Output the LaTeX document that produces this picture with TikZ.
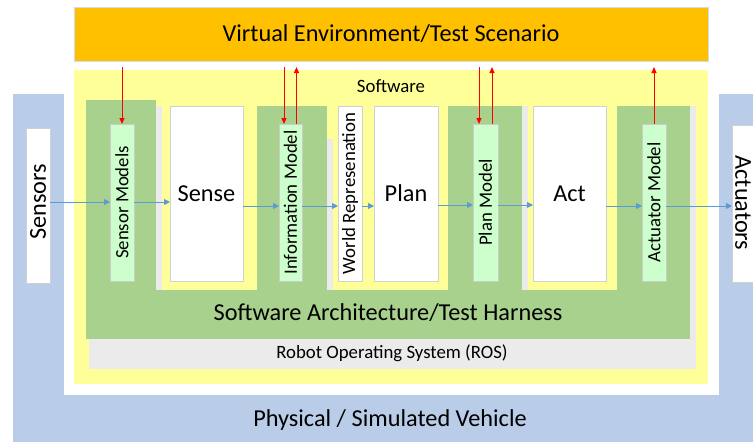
\documentclass[tikz,border=0pt]{standalone}
\usepackage{fontspec}
\setmainfont{Carlito}
\usetikzlibrary{arrows.meta}
\definecolor{vblue}{HTML}{BACDE8}
\definecolor{vorange}{HTML}{FFC000}
\definecolor{vyellow}{HTML}{FFFF99}
\definecolor{vgreen}{HTML}{A9D18E}
\definecolor{lgreen}{HTML}{CCFFCC}
\definecolor{vgray}{HTML}{EBEBEB}
\definecolor{arrblue}{HTML}{5B9BD5}
\begin{document}
\begin{tikzpicture}[x=1pt,y=-1pt,
  plain/.style={inner sep=0pt, outer sep=0pt, anchor=north west},
  wbox/.style={plain, fill=white, draw=black!18, line width=0.8pt},
  mbox/.style={plain, fill=lgreen, draw=black!20, line width=0.8pt},
  big/.style={font=\fontsize{24.3}{25}\selectfont},
  small/.style={font=\fontsize{18.8}{19}\selectfont},
  barr/.style={draw=arrblue, line width=0.9pt, -{Triangle[length=6pt,width=6pt]}},
  rarr/.style={draw=red, line width=1pt, -{Triangle[length=6pt,width=5pt]}}]
\useasboundingbox (0,0) rectangle (753,442);
\fill[white] (0,0) rectangle (753,442);
% physical vehicle
\fill[vblue] (13,94) rectangle (753,442);
\fill[white] (64,0) rectangle (719,395);
\node[big] (phys) at (390,420) {Physical / Simulated Vehicle};
% virtual environment
\node[plain, fill=vorange, draw=vblue!70, line width=0.8pt, minimum width=634pt, minimum height=54pt, big] (env) at (74,7) {Virtual Environment/Test Scenario};
% software
\node[plain, fill=vyellow, minimum width=634pt, minimum height=314pt] (sw) at (74,70) {};
\node[small] (swt) at (391,86) {Software};
% ROS and shadow strips
\node[plain, fill=vgray, minimum width=607pt, minimum height=30pt] (ros) at (89,339) {};
\node[small] (rost) at (392,353) {Robot Operating System (ROS)};
\fill[vgray] (156,106) rectangle (162,290);
\fill[vgray] (327,139) rectangle (333,290);
\fill[vgray] (522,106) rectangle (528,290);
\fill[vgray] (690,106) rectangle (696,339);
% green architecture
\fill[vgreen] (86,100) rectangle (156,290);
\fill[vgreen] (257,106) rectangle (327,290);
\fill[vgreen] (448,106) rectangle (522,290);
\fill[vgreen] (617,106) rectangle (690,290);
\fill[vgreen] (86,290) rectangle (690,339);
\node[big] (arch) at (388,313) {Software Architecture/Test Harness};
% sensors / actuators
\node[wbox, minimum width=24pt, minimum height=155pt] (sensors) at (26,128) {};
\node[big, rotate=90] (senst) at (38,202) {Sensors};
\node[wbox, minimum width=30pt, minimum height=157pt] (actuators) at (732,125) {};
\node[big, rotate=-90] (actt) at (743,203) {Actuators};
% white boxes
\node[wbox, minimum width=73pt, minimum height=175pt, big] (sense) at (170,106) {Sense};
\node[wbox, minimum width=24pt, minimum height=175pt] (world) at (338,106) {};
\node[small, rotate=90] (worldt) at (world.center) {World Represenation};
\node[wbox, minimum width=64pt, minimum height=175pt, big] (plan) at (374,106) {Plan};
\node[wbox, minimum width=73pt, minimum height=175pt, big] (act) at (533,106) {Act};
% model boxes
\node[mbox, minimum width=24pt, minimum height=157pt] (sm) at (110,124) {};
\node[small, rotate=90] (smt) at (sm.center) {Sensor Models};
\node[mbox, minimum width=23pt, minimum height=157pt] (im) at (279,124) {};
\node[small, rotate=90] (imt) at (im.center) {Information Model};
\node[mbox, minimum width=25pt, minimum height=157pt] (pm) at (473,124) {};
\node[small, rotate=90] (pmt) at (pm.center) {Plan Model};
\node[mbox, minimum width=24pt, minimum height=157pt] (am) at (642,124) {};
\node[small, rotate=90] (amt) at (am.center) {Actuator Model};
% flow arrows
\coordinate (ya) at (0,202);
\coordinate (yb) at (0,206);
\coordinate (yc) at (0,205);
\draw[barr] (sensors.east |- ya) -- (sm.west |- ya);
\draw[barr] (sm.east |- ya) -- (sense.west |- ya);
\draw[barr] (sense.east |- yb) -- (im.west |- yb);
\draw[barr] (im.east |- yb) -- (world.west |- yb);
\draw[barr] (world.east |- yb) -- (plan.west |- yb);
\draw[barr] (plan.east |- yc) -- (pm.west |- yc);
\draw[barr] (pm.east |- yc) -- (act.west |- yc);
\draw[barr] (act.east |- yb) -- (am.west |- yb);
\draw[barr] (am.east |- yb) -- (actuators.west |- yb);
% red arrows
\coordinate (ytop) at (0,67);
\draw[rarr] (sm.north |- ytop) -- (sm.north);
\draw[rarr] ([xshift=-6.5pt]im.north |- ytop) -- ([xshift=-6.5pt]im.north);
\draw[rarr] ([xshift=6pt]im.north) -- ([xshift=6pt]im.north |- ytop);
\draw[rarr] ([xshift=-6.5pt]pm.north |- ytop) -- ([xshift=-6.5pt]pm.north);
\draw[rarr] ([xshift=6.5pt]pm.north) -- ([xshift=6.5pt]pm.north |- ytop);
\draw[rarr] (am.north) -- (am.north |- ytop);
\end{tikzpicture}
\end{document}
